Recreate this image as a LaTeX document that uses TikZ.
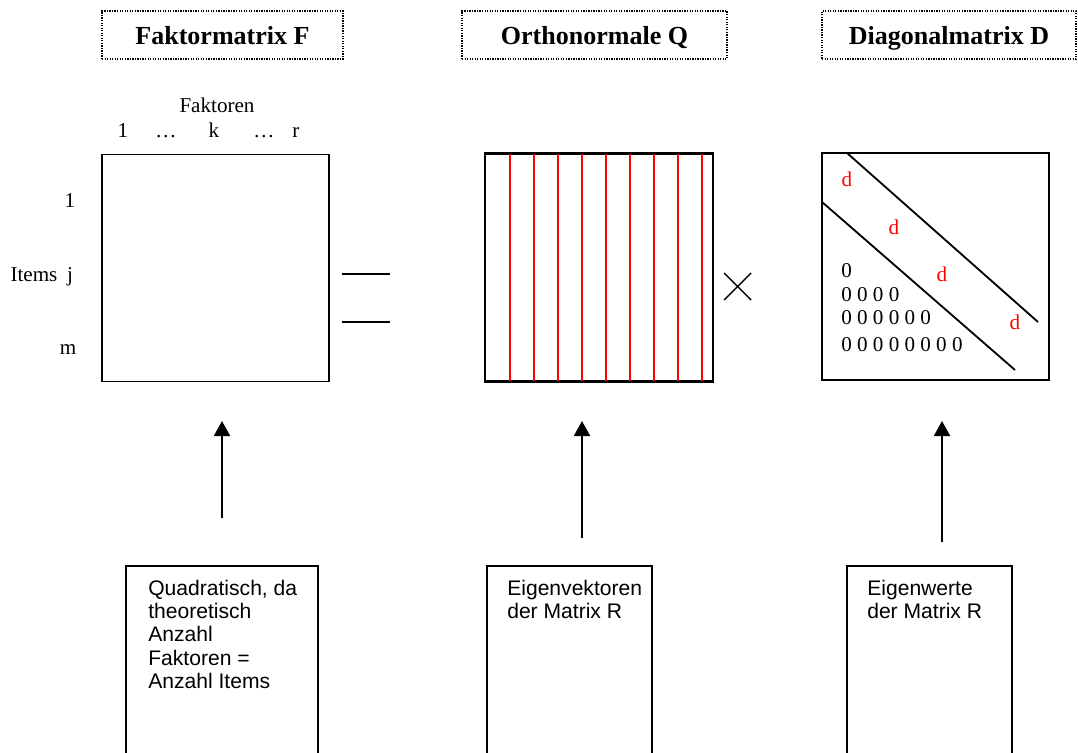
\documentclass[tikz,border=0pt]{standalone}
\usepackage{fontspec}
\setmainfont{Liberation Serif}
\setsansfont{Liberation Sans}
\usepackage{tikz}
\usetikzlibrary{arrows.meta,positioning}
\definecolor{vecred}{HTML}{FF0000}
\definecolor{inkblack}{HTML}{000000}
\tikzstyle{arrow} = [-{Triangle[length=3.75mm,width=4mm]}, line width=1.3pt, inkblack]
\tikzstyle{matbox} = [draw, line width=1.3pt, minimum width=5.675cm, minimum height=5.675cm, inner sep=0pt]
\tikzstyle{titlebox} = [draw, dash pattern=on 0.9pt off 0.9pt, line width=0.9pt, minimum height=1.2cm, text depth=0pt, font=\bfseries\fontsize{18.5}{20}\selectfont]
\tikzstyle{notebox} = [draw, line width=1.3pt, minimum width=4.125cm, minimum height=5cm, anchor=north west, inner sep=0pt]
\tikzstyle{notetext} = [anchor=north west, inner sep=0pt, align=left, font=\sffamily\fontsize{15}{16.5}\selectfont]

\begin{document}
\begin{tikzpicture}[x=0.025cm, y=-0.025cm, font=\fontsize{15}{18}\selectfont]
\useasboundingbox (0,0) rectangle (1078,753);
\clip (0,0) rectangle (1078,753);

% titles
\node[titlebox, minimum width=6.025cm] (tF) at (222.5,35) {Faktormatrix F};
\node[titlebox, minimum width=6.625cm] (tQ) at (594.5,35) {Orthonormale Q};
\node[titlebox, minimum width=6.35cm] (tD) at (949,35) {Diagonalmatrix D};

% factor matrix
\node[matbox] (F) at (215.5,268) {};
\node[anchor=base] (fak) at (217,113) {Faktoren};
\foreach \x/\lab in {123/1,166/\dots,214/k,264/\dots,296/r}{
  \node[anchor=base] at (\x,138) {\lab};
}
\node[anchor=base] (row1) at (70,208) {1};
\node[anchor=base] (items) at (34,282) {Items};
\node[anchor=base] (rowj) at (70,282) {j};
\node[anchor=base] (rowm) at (68,355) {m};

% equals sign
\draw[line width=1.3pt] (342,274) -- (390,274);
\draw[line width=1.3pt] (342,322) -- (390,322);

% orthonormal matrix
\node[matbox] (Q) at (599,267.5) {};
\foreach \x in {510,534,...,702}{
  \draw[vecred, line width=1.2pt] (\x,154) -- (\x,381);
}
\draw[matbox] (Q.north west) rectangle (Q.south east);

% times sign
\draw[line width=1pt] (724,273) -- (751,300);
\draw[line width=1pt] (751,273) -- (724,300);

% diagonal matrix
\node[matbox] (D) at (935.5,266.5) {};
\draw[line width=1.3pt] (847,153) -- (1038,322);
\draw[line width=1.3pt] (822,202) -- (1015,370);
\foreach \x/\y in {847/187,894/235,942/282,1015/330}{
  \node[anchor=base, text=vecred] at (\x,\y) {d};
}
\foreach \y/\zeros in {278/0,302/0 0 0 0,325/0 0 0 0 0 0,352/0 0 0 0 0 0 0 0}{
  \node[anchor=base west, inner sep=0pt] at (841,\y) {\zeros};
}

% explanation boxes
\node[notebox, minimum width=4.8cm] (eF) at (125,565) {};
\node[notebox] (eQ) at (486,565) {};
\node[notebox] (eD) at (846,565) {};
\node[notetext] (nF) at (148,580) {Quadratisch, da\\theoretisch\\Anzahl\\Faktoren =\\Anzahl Items};
\node[notetext] (nQ) at (507,580) {Eigenvektoren\\der Matrix R};
\node[notetext] (nD) at (867,580) {Eigenwerte\\der Matrix R};

% arrows
\coordinate (aF) at (222,518);
\coordinate (aQ) at (582,538);
\coordinate (aD) at (942,542);
\coordinate (hF) at (222,421);
\coordinate (hQ) at (582,421);
\coordinate (hD) at (942,421);
\draw[arrow] (aF) -- (hF);
\draw[arrow] (aQ) -- (hQ);
\draw[arrow] (aD) -- (hD);
\end{tikzpicture}
\end{document}
